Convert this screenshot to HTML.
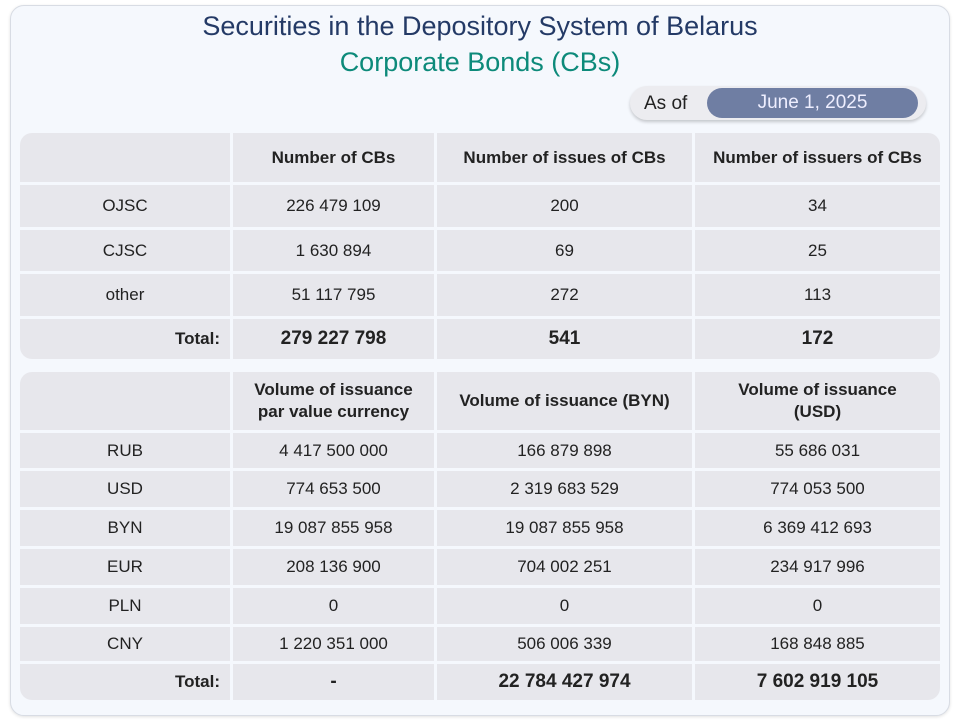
<!DOCTYPE html>
<html><head><meta charset="utf-8"><style>
body{margin:0;width:960px;height:720px;background:#fff;font-family:"Liberation Sans",sans-serif;position:relative;overflow:hidden}
.card{position:absolute;left:10px;top:5px;width:938px;height:709px;background:#f5f8fd;border:1px solid #d8dce4;border-radius:14px;box-shadow:0 1px 3px rgba(0,0,0,.12)}
.t1{position:absolute;left:0;width:960px;top:11px;text-align:center;font-size:27px;color:#243a66}
.t2{position:absolute;left:0;width:960px;top:47px;text-align:center;font-size:27px;color:#0d8a7a}
.pill{position:absolute;left:630px;top:86px;width:296px;height:34px;background:#ececf0;border-radius:17px;box-shadow:0 2px 3px rgba(0,0,0,.2)}
.pill .a{position:absolute;left:14px;top:7px;font-size:19px;color:#222}
.pill .d{position:absolute;left:77px;top:2px;width:211px;height:30px;background:#6f7ea3;border-radius:15px;color:#eef;font-size:19px;text-align:center;line-height:30px}
.g{position:absolute;left:20px;width:920px;display:grid;gap:3px;grid-template-columns:210px 201px 255px 245px;background:#f5f8fd;border-radius:12px;overflow:hidden}
.g div{background:#e7e7ec;display:flex;align-items:center;justify-content:center;font-size:17px;color:#222;text-align:center}
.g .h{font-weight:bold;font-size:17px;line-height:22px}
.g .tl{justify-content:flex-end;padding-right:10px;font-weight:bold}
.g .tv{font-weight:bold;font-size:19px}
</style></head><body>
<div class="card"></div>
<div class="t1">Securities in the Depository System of Belarus</div>
<div class="t2">Corporate Bonds (CBs)</div>
<div class="pill"><span class="a">As of</span><span class="d">June 1, 2025</span></div>
<div class="g" style="top:133px;grid-template-rows:49px 42px 41px 42px 40px">
<div></div><div class="h">Number of CBs</div><div class="h">Number of issues of CBs</div><div class="h">Number of issuers of CBs</div>
<div>OJSC</div><div>226 479 109</div><div>200</div><div>34</div>
<div>CJSC</div><div>1 630 894</div><div>69</div><div>25</div>
<div>other</div><div>51 117 795</div><div>272</div><div>113</div>
<div class="tl">Total:</div><div class="tv">279 227 798</div><div class="tv">541</div><div class="tv">172</div>
</div>
<div class="g" style="top:372px;grid-template-rows:58px 35px 36px 36px 36px 36px 34px 36px">
<div></div><div class="h">Volume of issuance<br>par value currency</div><div class="h">Volume of issuance (BYN)</div><div class="h">Volume of issuance<br>(USD)</div>
<div>RUB</div><div>4 417 500 000</div><div>166 879 898</div><div>55 686 031</div>
<div>USD</div><div>774 653 500</div><div>2 319 683 529</div><div>774 053 500</div>
<div>BYN</div><div>19 087 855 958</div><div>19 087 855 958</div><div>6 369 412 693</div>
<div>EUR</div><div>208 136 900</div><div>704 002 251</div><div>234 917 996</div>
<div>PLN</div><div>0</div><div>0</div><div>0</div>
<div>CNY</div><div>1 220 351 000</div><div>506 006 339</div><div>168 848 885</div>
<div class="tl">Total:</div><div class="tv">-</div><div class="tv">22 784 427 974</div><div class="tv">7 602 919 105</div>
</div>
</body></html>
